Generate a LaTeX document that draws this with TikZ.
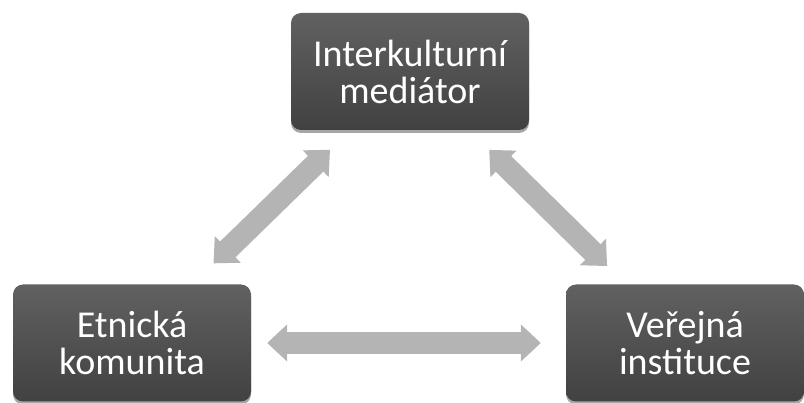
\documentclass[tikz,border=0pt]{standalone}
\usepackage{fontspec}
\setmainfont{Carlito}
\usetikzlibrary{arrows.meta,shadows}
\definecolor{boxtop}{HTML}{616161}
\definecolor{boxbot}{HTML}{414141}
\definecolor{arrowgray}{HTML}{B4B4B4}
\tikzset{
  party/.style={rounded corners=10pt, minimum width=238pt, minimum height=117pt,
    top color=boxtop, bottom color=boxbot, draw=none, text=white, align=center,
    font=\fontsize{38}{37}\selectfont,
    drop shadow={shadow xshift=0pt, shadow yshift=-3pt, opacity=0.35, fill=black}},
  link/.style={line width=22pt, draw=arrowgray,
    {Triangle[width=36pt,length=20pt]}-{Triangle[width=36pt,length=20pt]}}
}
\begin{document}
\begin{tikzpicture}[x=1pt, y=-1pt]
      \useasboundingbox (0,0) rectangle (804,403);
      \node (med)  at (410, 71.5) [party] {Interkulturní\\mediátor};
      \node (ethn) at (132, 343)  [party] {Etnická\\komunita};
      \node (inst) at (685, 343)  [party] {Veřejná\\instituce};

      \draw [link, shorten <=28pt, shorten >=30pt] (med) -- (ethn);
      \draw [link, shorten <=28pt, shorten >=26pt] (med) -- (inst);
      \draw [link, shorten <=16pt, shorten >=25pt] (ethn) -- (inst);
    \end{tikzpicture}
\end{document}
